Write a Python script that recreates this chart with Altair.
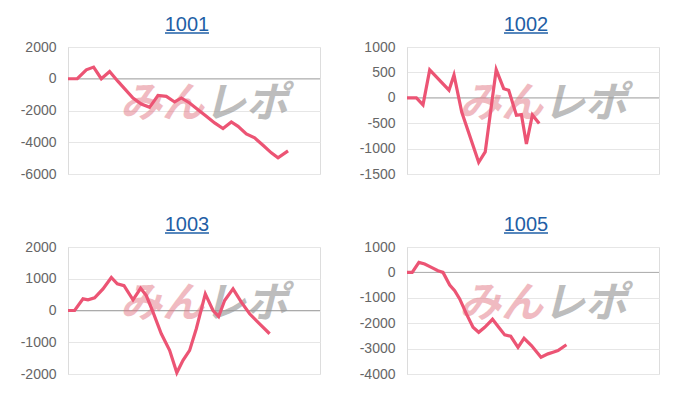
import altair as alt
import pandas as pd

# ---- data (x = games played, y = coin difference) ----
titles = ["1001", "1002", "1003", "1005"]

p1_x = [0, 295, 581, 813, 1057, 1321, 1588, 2064, 2327, 2591, 2858, 3121, 3385, 3598,
        3861, 4128, 4391, 4655, 4921, 5185, 5398, 5661, 5925, 6191, 6455, 6668, 6985]
p1_y = [0, 0, 565, 735, 0, 458, -170, -1212, -1589, -1802, -1049, -1112, -1463, -1212,
        -1526, -1947, -2368, -2782, -3140, -2719, -2996, -3473, -3724, -4189, -4666, -4980, -4540]

p2_x = [0, 298, 508, 721, 1333, 1492, 1737, 2276, 2483, 2832, 3070, 3229, 3473, 3632,
        3791, 3981, 4197]
p2_y = [0, 0, -140, 550, 150, 450, -280, -1270, -1065, 555, 180, 150, -345, -330,
        -910, -337, -508]

p3_x = [0, 210, 476, 635, 845, 1111, 1375, 1565, 1778, 2064, 2305, 2486, 2699, 2962,
        3226, 3455, 3651, 3861, 4073, 4359, 4604, 4782, 4972, 5239, 5502, 5766, 6083, 6401]
p3_y = [0, 0, 367, 336, 399, 681, 1040, 838, 785, 336, 700, 471, -53, -732,
        -1256, -1960, -1570, -1256, -575, 524, 0, -188, 314, 681, 261, -104, -418, -732]

p4_x = [0, 165, 378, 562, 775, 984, 1143, 1356, 1514, 1673, 1886, 2096, 2276, 2467,
        2715, 2911, 3102, 3292, 3524, 3715, 3950, 4254, 4477, 4636, 4794, 5061]
p4_y = [0, 0, 393, 330, 197, 67, 0, -495, -719, -1046, -1635, -2161, -2358, -2161,
        -1845, -2161, -2460, -2515, -2948, -2594, -2881, -3341, -3207, -3144, -3077, -2850]

y_domains = [[-6000, 2000], [-1500, 1000], [-2000, 2000], [-4000, 1000]]
y_ticks = [[-6000, -4000, -2000, 0, 2000],
           [-1500, -1000, -500, 0, 500, 1000],
           [-2000, -1000, 0, 1000, 2000],
           [-4000, -3000, -2000, -1000, 0, 1000]]
x_domain = [0, 8000]
watermark = ["みん", "レポ"]

LINE = "#ec5474"
TITLE = "#1f5fa6"
W, H = 252, 127
FONT = "Liberation Sans"


def panel(i, xs, ys):
    df = pd.DataFrame({"x": xs, "y": ys})
    yscale = alt.Scale(domain=y_domains[i], nice=False, zero=False)
    xscale = alt.Scale(domain=x_domain, nice=False)

    def yaxis():
        return alt.Axis(values=y_ticks[i], title=None, ticks=False, labelFontSize=14,
                        labelColor="#666", labelFont=FONT, labelPadding=12,
                        labelExpr="'' + datum.value",
                        labelOverlap=False, labelFlush=False, labelBound=False,
                        domainColor="#dcdcdc", gridColor="#e6e6e6",
                        minExtent=54, maxExtent=54)

    line = alt.Chart(df).mark_line(color=LINE, strokeWidth=3.2).encode(
        x=alt.X("x:Q", scale=xscale, axis=None),
        y=alt.Y("y:Q", scale=yscale, axis=yaxis()),
    )
    zero = alt.Chart(pd.DataFrame({"y": [0]})).mark_rule(color="#ababab", strokeWidth=1).encode(
        y=alt.Y("y:Q", scale=yscale, axis=yaxis()))
    wm_a = alt.Chart(pd.DataFrame({"t": [watermark[0]]})).mark_text(
        align="right", baseline="middle", font="Noto Sans CJK JP", fontSize=42,
        fontWeight="bold", fontStyle="italic", color="#e27884", opacity=0.5,
    ).encode(text="t:N", x=alt.value(136), y=alt.value(57))
    wm_b = alt.Chart(pd.DataFrame({"t": [watermark[1]]})).mark_text(
        align="left", baseline="middle", font="Noto Sans CJK JP", fontSize=42,
        fontWeight="bold", fontStyle="italic", color="#9a9a9a", opacity=0.65,
    ).encode(text="t:N", x=alt.value(136), y=alt.value(57))
    title = alt.Chart(pd.DataFrame({"t": [titles[i]]})).mark_text(
        align="center", baseline="alphabetic", font=FONT, fontSize=20, color=TITLE,
    ).encode(text="t:N", x=alt.value(119), y=alt.value(-16))
    underline = alt.Chart(pd.DataFrame({"t": [titles[i]]})).mark_rule(
        color=TITLE, strokeWidth=1.5).encode(
        x=alt.value(97), x2=alt.value(141), y=alt.value(-14))
    return alt.layer(zero, wm_a, wm_b, line, title, underline).properties(width=W, height=H)


row1 = alt.hconcat(panel(0, p1_x, p1_y), panel(1, p2_x, p2_y), spacing=31)
row2 = alt.hconcat(panel(2, p3_x, p3_y), panel(3, p4_x, p4_y), spacing=31)
chart = alt.vconcat(row1, row2, spacing=32).properties(
    padding={"left": 5, "top": 6, "right": 5, "bottom": 5}
).configure_view(strokeWidth=0).configure(background="white")

chart.save("out.html", embed_options={"renderer": "svg", "actions": False})
